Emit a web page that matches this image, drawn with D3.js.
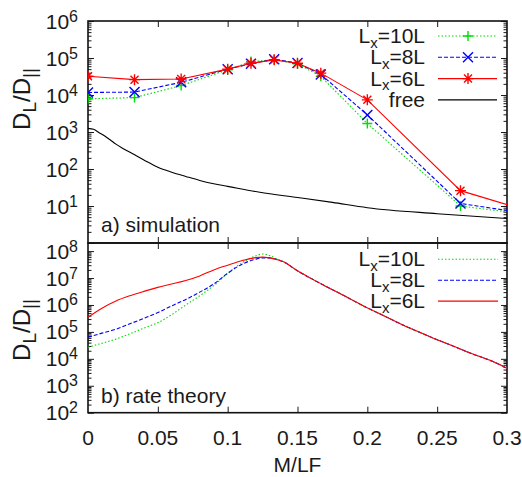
<!DOCTYPE html>
<html>
<head>
<meta charset="utf-8">
<script src="https://cdn.jsdelivr.net/npm/d3@7"></script>
<style>
body { margin: 0; background: #fff; }
text { font-family: "Liberation Sans", Arial, sans-serif; fill: #1a1a1a; }
</style>
</head>
<body>
<script>
// a) simulation: points at M/LF (last point lies past the frame and is clipped)
const simX = [0, 0.0333, 0.0667, 0.1, 0.1167, 0.1333, 0.15, 0.1667, 0.2, 0.2667, 0.3333];
const sim10L = [7.9e3, 8.5e3, 1.8e4, 4.8e4, 8.0e4, 9.0e4, 7.0e4, 3.2e4, 1.7e3, 10, 4.8];
const sim8L = [1.17e4, 1.2e4, 2.2e4, 5.0e4, 7.0e4, 9.3e4, 7.3e4, 3.6e4, 2.9e3, 11.7, 4.9];
const sim6L = [3.2e4, 2.6e4, 2.7e4, 5.0e4, 7.2e4, 8.9e4, 7.2e4, 3.9e4, 7.4e3, 26, 4.6];

const freeX = [0, 0.004, 0.008, 0.012, 0.016, 0.02, 0.025, 0.032, 0.04, 0.05, 0.06, 0.07, 0.08, 0.09, 0.1, 0.123, 0.15, 0.175, 0.2, 0.25, 0.3];
const freeY = [1250, 1180, 960, 780, 610, 470, 360, 257, 175, 112, 82, 63, 49, 40, 34, 23.5, 17, 12.5, 9, 6.2, 4.6];

// b) rate theory
const rateX = [0, 0.01, 0.02, 0.03, 0.04, 0.05, 0.06, 0.07, 0.08, 0.09, 0.1, 0.11, 0.12, 0.125, 0.13, 0.135,
  0.14, 0.15, 0.16, 0.17, 0.18, 0.19, 0.2, 0.21, 0.225, 0.24, 0.25, 0.26, 0.275, 0.29, 0.3];
const rate10L = [2.7e4, 3.8e4, 5.4e4, 8.5e4, 1.38e5, 2.2e5, 4.4e5, 1.0e6, 2.2e6, 5.2e6, 1.5e7, 3.6e7, 6.6e7, 7.8e7, 6.8e7, 5.2e7,
  4.0e7, 1.85e7, 9.5e6, 5.0e6, 2.75e6, 1.45e6, 7.8e5, 4.4e5, 1.86e5, 8.5e4, 5.1e4, 3.2e4, 1.55e4, 7.9e3, 4.5e3];
const rate8L = [6.3e4, 9.0e4, 1.26e5, 2.0e5, 3.2e5, 5.2e5, 9.3e5, 1.6e6, 3.0e6, 6.0e6, 1.5e7, 3.2e7, 5.0e7, 5.6e7, 5.6e7, 4.9e7,
  4.0e7, 1.85e7, 9.5e6, 5.0e6, 2.75e6, 1.45e6, 7.8e5, 4.4e5, 1.86e5, 8.5e4, 5.1e4, 3.2e4, 1.55e4, 7.9e3, 4.5e3];
const rate6L = [3.5e5, 7.6e5, 1.4e6, 2.2e6, 3.2e6, 4.5e6, 6.0e6, 8.1e6, 1.2e7, 2.0e7, 3.0e7, 4.4e7, 5.75e7, 6.0e7, 5.6e7, 4.9e7,
  4.0e7, 1.85e7, 9.5e6, 5.0e6, 2.75e6, 1.45e6, 7.8e5, 4.4e5, 1.86e5, 8.5e4, 5.1e4, 3.2e4, 1.55e4, 7.9e3, 4.5e3];

const xTicks = [0, 0.05, 0.1, 0.15, 0.2, 0.25, 0.3];
const xTickLabels = ['0', '0.05', '0.1', '0.15', '0.2', '0.25', '0.3'];
const topExps = [1, 2, 3, 4, 5, 6];
const botExps = [2, 3, 4, 5, 6, 7, 8];

const width = 522;
const height = 477;
const left = 88, right = 507;

const green = '#00dd00', blue = '#0000ff', red = '#ff0000';

const x = d3.scaleLinear().domain([0, 0.3]).range([left, right]);
const yTop = d3.scaleLog().domain([1, 1e6]).range([243, 21]);
const yBot = d3.scaleLog().domain([1e2, 2e8]).range([412.7, 243]);

const svg = d3.select('body')
  .append('svg')
  .attr('width', width)
  .attr('height', height);

const plus = 'M-5,0H5M0,-5V5';
const cross = 'M-5,-5L5,5M-5,5L5,-5';
const star = 'M-5.5,0H5.5M0,-5.5V5.5M-4,-4L4,4M-4,4L4,-4';

function panel(y, name) {
  const g = svg.append('g');
  const [y0, y1] = y.range();
  g.append('clipPath').attr('id', name)
    .append('rect').attr('x', left).attr('y', y1).attr('width', right - left).attr('height', y0 - y1);

  const all = y.ticks();
  const major = all.filter(d => Math.abs(Math.log10(d) - Math.round(Math.log10(d))) < 1e-9);
  const minor = all.filter(d => !major.includes(d));

  const axes = [
    [d3.axisRight(y).tickValues(major).tickSize(6), left, 0],
    [d3.axisRight(y).tickValues(minor).tickSize(3.5), left, 0],
    [d3.axisLeft(y).tickValues(major).tickSize(6), right, 0],
    [d3.axisLeft(y).tickValues(minor).tickSize(3.5), right, 0],
    [d3.axisBottom(x).tickValues(xTicks.slice(1, -1)).tickSize(6), 0, y1],
    [d3.axisTop(x).tickValues(xTicks.slice(1, -1)).tickSize(6), 0, y0]
  ];
  axes.forEach(([ax, tx, ty]) => {
    const a = g.append('g')
      .attr('transform', `translate(${tx},${ty})`)
      .call(ax.tickFormat(''));
    a.select('.domain').remove();
    a.selectAll('line').attr('stroke', '#1a1a1a').attr('stroke-width', 1);
  });

  g.append('rect')
    .attr('x', left).attr('y', y1)
    .attr('width', right - left).attr('height', y0 - y1)
    .attr('fill', 'none').attr('stroke', '#111').attr('stroke-width', 1.6);

  return g;
}

function yLabels(y, exps) {
  exps.forEach(e => {
    const t = svg.append('text')
      .attr('x', 78).attr('y', y(Math.pow(10, e)) + 7.5)
      .attr('text-anchor', 'end')
      .style('font-size', '21px')
      .text('10');
    t.append('tspan').attr('dy', -7).style('font-size', '16px').text(e);
  });
}

function yTitle(cy) {
  const t = svg.append('text')
    .attr('transform', `translate(30,${cy}) rotate(-90)`)
    .attr('text-anchor', 'middle')
    .style('font-size', '24px');
  t.append('tspan').text('D');
  t.append('tspan').attr('dy', 6).style('font-size', '19px').text('L');
  t.append('tspan').attr('dy', -6).text('/D');
  t.append('tspan').attr('dy', 6).style('font-size', '19px').text('||');
}

function legendLabel(yy, sub, rest) {
  const t = svg.append('text')
    .attr('x', 425).attr('y', yy + 7)
    .attr('text-anchor', 'end')
    .style('font-size', '21px');
  t.append('tspan').text('L');
  t.append('tspan').attr('dy', 4.5).style('font-size', '15px').text(sub);
  t.append('tspan').attr('dy', -4.5).text(rest);
}

// ---------- top panel ----------
const gTop = panel(yTop, 'clipTop');
const plotTop = gTop.append('g').attr('clip-path', 'url(#clipTop)');

const lineTop = d3.line().x(d => x(d[0])).y(d => yTop(d[1]));
const freeLine = d3.line().x(d => x(d[0])).y(d => yTop(d[1])).curve(d3.curveMonotoneX);

plotTop.append('path')
  .attr('d', freeLine(d3.zip(freeX, freeY)))
  .attr('fill', 'none').attr('stroke', '#000').attr('stroke-width', 1.1);

const simSeries = [
  { v: sim10L, c: green, dash: '1.5,2', m: plus },
  { v: sim8L, c: blue, dash: '4,2', m: cross },
  { v: sim6L, c: red, dash: null, m: star }
];

simSeries.forEach(s => {
  const pts = d3.zip(simX, s.v);
  plotTop.append('path')
    .attr('d', lineTop(pts))
    .attr('fill', 'none').attr('stroke', s.c).attr('stroke-width', 1.1)
    .attr('stroke-dasharray', s.dash);
  plotTop.selectAll(null)
    .data(pts)
    .enter().append('path')
      .attr('transform', d => `translate(${x(d[0])},${yTop(d[1])})`)
      .attr('d', s.m)
      .attr('fill', 'none').attr('stroke', s.c).attr('stroke-width', 1.4);
});

// top legend
const legTop = [
  { sub: 'x', rest: '=10L', c: green, dash: '1.5,2', m: plus },
  { sub: 'x', rest: '=8L', c: blue, dash: '4,2', m: cross },
  { sub: 'x', rest: '=6L', c: red, dash: null, m: star },
  { c: '#000', dash: null, m: null }
];
legTop.forEach((d, i) => {
  const yy = 36 + i * 21.3;
  if (d.sub) legendLabel(yy, d.sub, d.rest);
  else svg.append('text').attr('x', 425).attr('y', yy + 7.5)
    .attr('text-anchor', 'end').style('font-size', '21px').text('free');
  svg.append('line')
    .attr('x1', 438).attr('x2', 497).attr('y1', yy).attr('y2', yy)
    .attr('stroke', d.c).attr('stroke-width', 1.1).attr('stroke-dasharray', d.dash);
  if (d.m) svg.append('path')
    .attr('transform', `translate(468,${yy})`).attr('d', d.m)
    .attr('fill', 'none').attr('stroke', d.c).attr('stroke-width', 1.4);
});

svg.append('text').attr('x', 101).attr('y', 231.5)
  .style('font-size', '21px').text('a) simulation');

yLabels(yTop, topExps);
yTitle(99);

// ---------- bottom panel ----------
const gBot = panel(yBot, 'clipBot');
const plotBot = gBot.append('g').attr('clip-path', 'url(#clipBot)');
const lineBot = d3.line().x(d => x(d[0])).y(d => yBot(d[1])).curve(d3.curveMonotoneX);

const rateSeries = [
  { v: rate10L, c: green, dash: '1.5,2' },
  { v: rate8L, c: blue, dash: '4,2' },
  { v: rate6L, c: red, dash: null }
];
rateSeries.forEach(s => {
  plotBot.append('path')
    .attr('d', lineBot(d3.zip(rateX, s.v)))
    .attr('fill', 'none').attr('stroke', s.c).attr('stroke-width', 1.1)
    .attr('stroke-dasharray', s.dash);
});

const legBot = [
  { rest: '=10L', c: green, dash: '1.5,2' },
  { rest: '=8L', c: blue, dash: '4,2' },
  { rest: '=6L', c: red, dash: null }
];
legBot.forEach((d, i) => {
  const yy = 259.3 + i * 20.9;
  legendLabel(yy, 'x', d.rest);
  svg.append('line')
    .attr('x1', 438).attr('x2', 498).attr('y1', yy).attr('y2', yy)
    .attr('stroke', d.c).attr('stroke-width', 1.1).attr('stroke-dasharray', d.dash);
});

svg.append('text').attr('x', 101).attr('y', 402.5)
  .style('font-size', '21px').text('b) rate theory');

yLabels(yBot, botExps);
yTitle(330);

// x tick labels
svg.selectAll('.xl')
  .data(xTicks)
  .enter().append('text')
    .attr('x', d => x(d))
    .attr('y', 444.5)
    .attr('text-anchor', 'middle')
    .style('font-size', '21px')
    .text((d, i) => xTickLabels[i]);

svg.append('text').attr('x', x(0.15)).attr('y', 471.5)
  .attr('text-anchor', 'middle').style('font-size', '21px').text('M/LF');
</script>
</body>
</html>
